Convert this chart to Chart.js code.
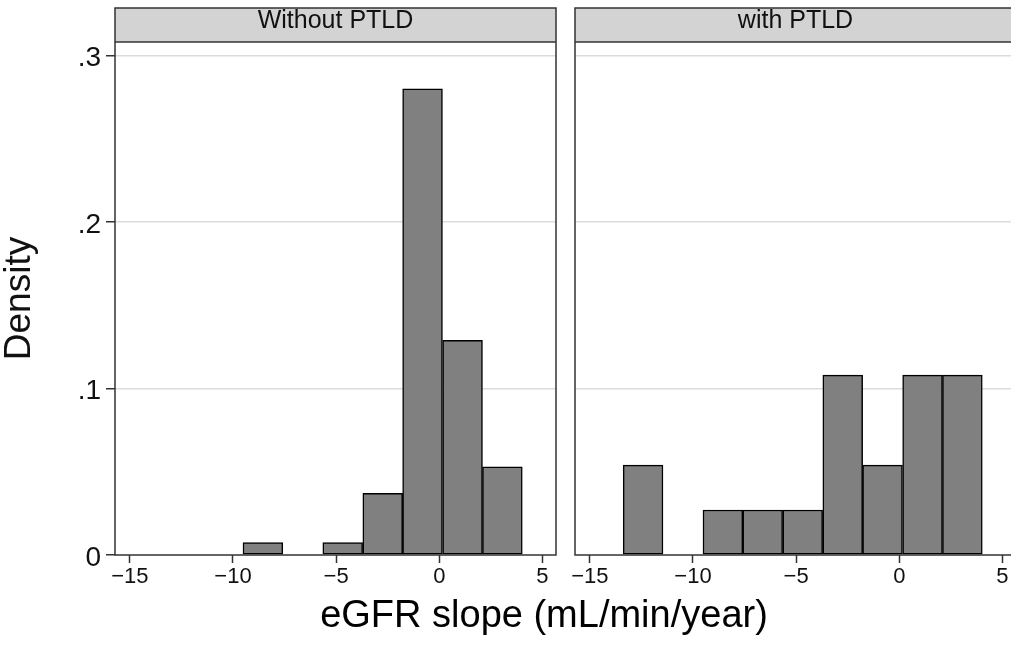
<!DOCTYPE html>
<html>
<head>
<meta charset="utf-8">
<script src="https://cdn.jsdelivr.net/npm/chart.js@4/dist/chart.umd.min.js"></script>
<style>
  body { margin: 0; background: #fff; width: 1011px; height: 645px; overflow: hidden; position: relative; }
  canvas { position: absolute; top: 0; }
  #left { left: 0; }
  #right { left: 560px; }
  #xtitle {
    position: absolute; left: 294px; width: 500px; top: 596px;
    text-align: center; font: 38px/36px "Liberation Sans", Arial, sans-serif; color: #000;
  }
</style>
</head>
<body>
<canvas id="left" width="560" height="645"></canvas>
<canvas id="right" width="460" height="645"></canvas>
<div id="xtitle">eGFR slope (mL/min/year)</div>
<script>
// histogram bins (centres, mL/min/year)
const binCenters = [-12.42, -10.49, -8.55, -6.62, -4.68, -2.74, -0.81, 1.13, 3.06];
const withoutPTLD = [0, 0, 0.0074, 0, 0.0074, 0.037, 0.28, 0.129, 0.053];
const withPTLD = [0.054, 0, 0.027, 0.027, 0.027, 0.108, 0.054, 0.108, 0.108];
const panelNames = ['Without PTLD', 'with PTLD'];
const xTicks = [-15, -10, -5, 0, 5];
const yTicks = [0, 0.1, 0.2, 0.3];

const FONT = '"Liberation Sans", Arial, sans-serif';
const frameColor = '#333';

// grey strip behind the panel title + box round the plot area
const panelFrame = {
  id: 'panelFrame',
  beforeDraw(chart) {
    const a = chart.chartArea, ctx = chart.ctx;
    ctx.save();
    ctx.fillStyle = '#d3d3d3';
    ctx.fillRect(a.left, 8, a.right - a.left, a.top - 8);
    ctx.restore();
  },
  afterDraw(chart) {
    const a = chart.chartArea, ctx = chart.ctx;
    ctx.save();
    ctx.strokeStyle = frameColor;
    ctx.lineWidth = 1.5;
    ctx.strokeRect(a.left, 8, a.right - a.left, a.bottom - 8);
    ctx.beginPath();
    ctx.moveTo(a.left, a.top);
    ctx.lineTo(a.right, a.top);
    ctx.stroke();
    ctx.restore();
  }
};

function makePanel(id, name, values, showY) {
  return new Chart(document.getElementById(id), {
    type: 'bar',
    data: {
      datasets: [{
        data: binCenters.map((c, i) => ({ x: c, y: values[i] })),
        backgroundColor: '#808080',
        borderColor: '#000',
        borderWidth: 1.5,
        borderSkipped: false,
        barPercentage: 1,
        categoryPercentage: 1
      }]
    },
    options: {
      responsive: false,
      animation: false,
      layout: { padding: { top: 8, right: 4, left: 0, bottom: 0 } },
      plugins: {
        legend: { display: false },
        tooltip: { enabled: false },
        title: {
          display: true,
          text: name,
          fullSize: false,
          color: '#111',
          font: { family: FONT, size: 25, weight: 'normal', lineHeight: 1.08 },
          padding: { top: 0, bottom: 7 }
        }
      },
      scales: {
        x: {
          type: 'linear',
          min: -15.72,
          max: 5.66,
          offset: false,
          afterBuildTicks: s => { s.ticks = xTicks.map(v => ({ value: v })); },
          afterFit: s => { s.height = 90; },
          border: { display: false },
          grid: { offset: false, drawOnChartArea: false, drawTicks: true, tickLength: 8, tickColor: frameColor, tickWidth: 1.5 },
          ticks: {
            color: '#111',
            padding: 1,
            maxRotation: 0,
            autoSkip: false,
            font: { family: FONT, size: 22 },
            callback: v => String(v).replace('-', '\u2212')
          }
        },
        y: {
          min: 0,
          max: 0.3081,
          afterBuildTicks: s => { s.ticks = yTicks.map(v => ({ value: v })); },
          afterFit: s => { s.width = showY ? 115 : 15; },
          border: { display: false },
          grid: {
            color: ctx => ctx.tick && ctx.tick.value === 0 ? 'rgba(0,0,0,0)' : '#dcdcdc',
            lineWidth: 1.5,
            drawTicks: showY,
            tickLength: 9,
            tickColor: frameColor,
            tickWidth: 1.5
          },
          title: {
            display: showY,
            text: 'Density',
            color: '#111',
            font: { family: FONT, size: 37, lineHeight: 1 },
            padding: { top: 1, bottom: 0 }
          },
          ticks: {
            display: showY,
            color: '#111',
            padding: 5,
            labelOffset: 3,
            font: { family: FONT, size: 28 },
            callback: v => v === 0 ? '0' : '.' + Math.round(v * 10)
          }
        }
      }
    },
    plugins: [panelFrame]
  });
}

makePanel('left', panelNames[0], withoutPTLD, true);
makePanel('right', panelNames[1], withPTLD, false);
</script>
</body>
</html>
